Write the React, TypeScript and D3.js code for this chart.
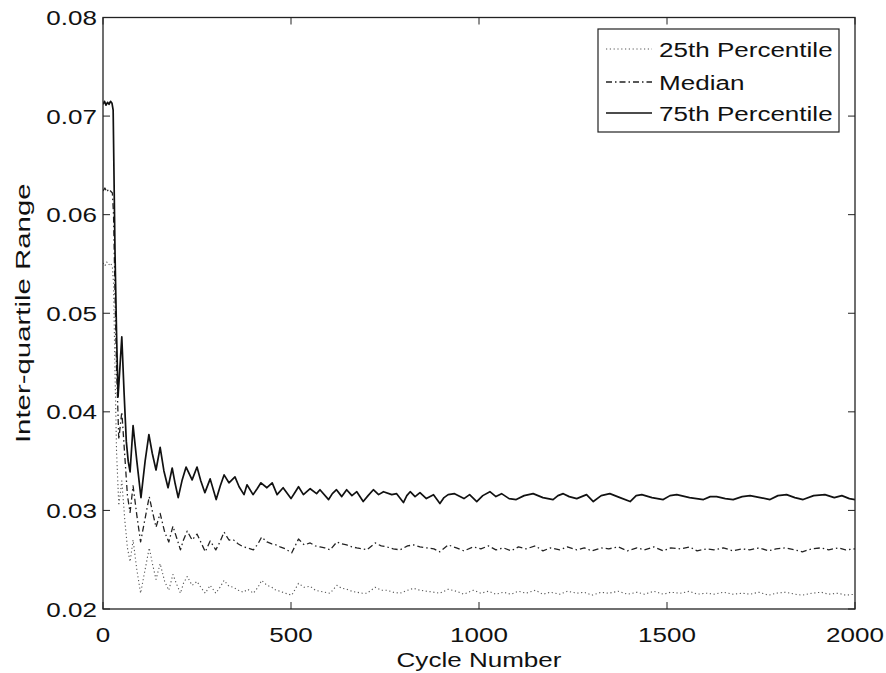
import React from "react";
import * as d3 from "d3";

// ---- data ----
const xTicks = [0, 500, 1000, 1500, 2000];
const yTicks = [0.02, 0.03, 0.04, 0.05, 0.06, 0.07, 0.08];
const yTickLabels = ["0.02", "0.03", "0.04", "0.05", "0.06", "0.07", "0.08"];
const legendLabels = ["25th Percentile", "Median", "75th Percentile"];

const p75Cycles = [0, 4, 8, 12, 16, 20, 24, 27, 32, 36, 40, 45, 50, 56, 62, 67, 72, 80, 90, 101, 112, 122, 131, 141, 152, 162, 173, 184, 192, 200, 210, 221, 237, 250, 260, 271, 285, 301, 312, 322, 335, 351, 362, 375, 383, 399, 410, 420, 436, 450, 463, 479, 500, 510, 520, 533, 551, 568, 577, 600, 610, 621, 635, 648, 662, 675, 692, 705, 719, 733, 746, 768, 781, 799, 808, 817, 830, 843, 860, 879, 896, 907, 918, 935, 960, 975, 994, 1010, 1029, 1045, 1060, 1080, 1099, 1120, 1144, 1170, 1197, 1210, 1224, 1240, 1260, 1286, 1304, 1325, 1348, 1375, 1402, 1418, 1433, 1460, 1490, 1508, 1526, 1560, 1597, 1615, 1632, 1655, 1676, 1700, 1721, 1748, 1774, 1795, 1818, 1840, 1862, 1890, 1920, 1945, 1965, 1985, 2000];
const p75Values = [0.0712, 0.0715, 0.0711, 0.0714, 0.0712, 0.0715, 0.0713, 0.0706, 0.056, 0.048, 0.0415, 0.0445, 0.0476, 0.042, 0.037, 0.035, 0.0339, 0.0386, 0.035, 0.0313, 0.035, 0.0377, 0.0358, 0.0341, 0.0364, 0.034, 0.0323, 0.0343, 0.0327, 0.0313, 0.033, 0.0344, 0.0331, 0.0344, 0.033, 0.0318, 0.0332, 0.0311, 0.0325, 0.0336, 0.0328, 0.0334, 0.0324, 0.0316, 0.0326, 0.0316, 0.0322, 0.0328, 0.0323, 0.0328, 0.0316, 0.0323, 0.0312, 0.0318, 0.0324, 0.0316, 0.0322, 0.0317, 0.0321, 0.0311, 0.0317, 0.0321, 0.0314, 0.0321, 0.0315, 0.0319, 0.0309, 0.0315, 0.0321, 0.0316, 0.0319, 0.0316, 0.0317, 0.0308, 0.0315, 0.0319, 0.0314, 0.0318, 0.0312, 0.0316, 0.0307, 0.0313, 0.0316, 0.0317, 0.0312, 0.0316, 0.0309, 0.0315, 0.0319, 0.0314, 0.0317, 0.0312, 0.0311, 0.0315, 0.0317, 0.0313, 0.0311, 0.0315, 0.0317, 0.0314, 0.0312, 0.0316, 0.0309, 0.0315, 0.0317, 0.0313, 0.0309, 0.0315, 0.0316, 0.0313, 0.0311, 0.0315, 0.0316, 0.0313, 0.0311, 0.0314, 0.0314, 0.0312, 0.0311, 0.0314, 0.0315, 0.0313, 0.0311, 0.0315, 0.0316, 0.0313, 0.0311, 0.0315, 0.0316, 0.0313, 0.0315, 0.0312, 0.0311];

const lowCycles = [0, 5, 10, 15, 20, 25, 28, 32, 36, 42, 50, 58, 65, 72, 80, 90, 100, 112, 123, 132, 141, 152, 164, 175, 186, 196, 206, 214, 224, 237, 250, 260, 272, 285, 300, 311, 322, 335, 347, 360, 373, 385, 400, 412, 422, 436, 449, 460, 471, 485, 502, 520, 535, 551, 565, 577, 590, 604, 622, 635, 648, 662, 675, 690, 702, 724, 740, 755, 772, 790, 810, 826, 843, 861, 880, 896, 918, 940, 960, 985, 1005, 1025, 1045, 1065, 1085, 1105, 1125, 1150, 1170, 1190, 1215, 1235, 1260, 1280, 1300, 1325, 1345, 1370, 1395, 1420, 1440, 1465, 1490, 1510, 1535, 1560, 1580, 1605, 1625, 1650, 1675, 1700, 1720, 1745, 1770, 1790, 1815, 1840, 1860, 1885, 1910, 1930, 1955, 1975, 2000];
const medianValues = [0.0624, 0.0627, 0.0623, 0.0626, 0.0624, 0.0622, 0.06, 0.052, 0.0445, 0.0372, 0.04, 0.0355, 0.0315, 0.0298, 0.0325, 0.0295, 0.0268, 0.0292, 0.0314, 0.0298, 0.0283, 0.0297, 0.0278, 0.0268, 0.0284, 0.0272, 0.026, 0.027, 0.0279, 0.027, 0.0276, 0.0268, 0.0258, 0.0269, 0.026, 0.0268, 0.0278, 0.027, 0.027, 0.0266, 0.0263, 0.0262, 0.026, 0.0266, 0.0273, 0.0268, 0.0266, 0.0265, 0.0263, 0.0261, 0.0257, 0.0271, 0.0265, 0.0267, 0.0264, 0.0263, 0.0262, 0.026, 0.0268, 0.0266, 0.0265, 0.0263, 0.0262, 0.0261, 0.026, 0.0267, 0.0264, 0.0263, 0.0261, 0.026, 0.0264, 0.0265, 0.0263, 0.0262, 0.0261, 0.0258, 0.0265, 0.0262, 0.0259, 0.0263, 0.0261, 0.0264, 0.026, 0.0262, 0.0259, 0.0263, 0.0261, 0.0264, 0.0259, 0.0262, 0.026, 0.0263, 0.026, 0.0262, 0.0259, 0.0262, 0.0261, 0.0263, 0.0259, 0.0262, 0.026, 0.0263, 0.0259, 0.0262, 0.0261, 0.0263, 0.0259, 0.0261, 0.026, 0.0262, 0.0259, 0.0261, 0.026, 0.0262, 0.0259, 0.0261, 0.0262, 0.026, 0.0258, 0.0261, 0.0262, 0.026, 0.0262, 0.026, 0.0261];
const p25Values = [0.0551, 0.0548, 0.0552, 0.0549, 0.0551, 0.0547, 0.053, 0.044, 0.036, 0.0305, 0.033, 0.029, 0.0262, 0.0248, 0.027, 0.024, 0.0216, 0.024, 0.0262, 0.0245, 0.023, 0.0246, 0.0228, 0.0219, 0.0235, 0.0225, 0.0216, 0.0226, 0.0233, 0.0224, 0.0228, 0.0222, 0.0216, 0.0224, 0.0216, 0.0222, 0.0229, 0.0223, 0.0222, 0.0219, 0.0217, 0.022, 0.0216, 0.0222, 0.0229, 0.0224, 0.0222, 0.0219, 0.0218, 0.0216, 0.0214, 0.0226, 0.0222, 0.0223, 0.0219, 0.0218, 0.0217, 0.0216, 0.0224, 0.0221, 0.022, 0.0218, 0.0217, 0.0216, 0.0216, 0.0222, 0.0219, 0.0219, 0.0217, 0.0216, 0.0219, 0.0221, 0.0219, 0.0218, 0.0217, 0.0216, 0.022, 0.0218, 0.0215, 0.0219, 0.0216, 0.0218, 0.0215, 0.0217, 0.0215, 0.0218, 0.0216, 0.0219, 0.0215, 0.0217, 0.0215, 0.0218, 0.0216, 0.0217, 0.0214, 0.0217, 0.0216, 0.0218, 0.0215, 0.0217, 0.0215, 0.0218, 0.0215, 0.0217, 0.0216, 0.0218, 0.0215, 0.0216, 0.0215, 0.0217, 0.0215, 0.0216, 0.0215, 0.0217, 0.0214, 0.0216, 0.0217, 0.0215, 0.0214, 0.0216, 0.0217, 0.0215, 0.0216, 0.0214, 0.0215];

// ---- layout ----
const W = 886;
const H = 673;
const L = 103, R = 855, T = 17.5, B = 609;
const FONT = "'Liberation Sans', Arial, Helvetica, sans-serif";
const FS = 21;
const SX = 1.24; // horizontal stretch of the reference's lettering
const SY_LABEL = 1.4; // stretch along the rotated y-axis title

function SText(props: { x: number; y: number; anchor?: string; size?: number; rotate?: boolean; children: React.ReactNode }) {
  const { x, y, anchor = "start", size = FS, rotate = false, children } = props;
  const tf = rotate ? `translate(${x},${y}) rotate(-90) scale(${SY_LABEL},1)` : `translate(${x},${y}) scale(${SX},1)`;
  return (
    <text transform={tf} x={0} y={0} fontSize={size} textAnchor={anchor} fill="#111">
      {children}
    </text>
  );
}

export default function App() {
  const x = d3.scaleLinear().domain([0, 2000]).range([L, R]);
  const y = d3.scaleLinear().domain([0.02, 0.08]).range([B, T]);
  const line = d3
    .line<[number, number]>()
    .x((d) => x(d[0]))
    .y((d) => y(d[1]));

  const series = [
    { pts: lowCycles.map((c, i) => [c, p25Values[i]] as [number, number]), stroke: "#555", width: 1.1, dash: "1.2,2.6" },
    { pts: lowCycles.map((c, i) => [c, medianValues[i]] as [number, number]), stroke: "#222", width: 1.3, dash: "6,3,1.5,3" },
    { pts: p75Cycles.map((c, i) => [c, p75Values[i]] as [number, number]), stroke: "#111", width: 1.7, dash: "none" },
  ];

  const tickLen = 7;
  const legX0 = 598, legX1 = 839, legY0 = 29, legY1 = 132;
  const legRows = [49, 82, 113];

  return (
    <svg width={W} height={H} style={{ position: "absolute", left: 0, top: 0, background: "#fff" }} fontFamily={FONT}>
      <rect x={0} y={0} width={W} height={H} fill="#fff" />
      <defs>
        <clipPath id="plotclip">
          <rect x={L} y={T} width={R - L} height={B - T} />
        </clipPath>
      </defs>
      <g clipPath="url(#plotclip)">
        {series.map((s, i) => (
          <path key={i} d={line(s.pts) || ""} fill="none" stroke={s.stroke} strokeWidth={s.width} strokeDasharray={s.dash} strokeLinejoin="round" />
        ))}
      </g>
      <rect x={L} y={T} width={R - L} height={B - T} fill="none" stroke="#222" strokeWidth={1.3} />
      {xTicks.map((t) => (
        <g key={"x" + t}>
          <line x1={x(t)} x2={x(t)} y1={B} y2={B - tickLen} stroke="#222" />
          <line x1={x(t)} x2={x(t)} y1={T} y2={T + tickLen} stroke="#222" />
          <SText x={x(t)} y={642} anchor="middle">{t}</SText>
        </g>
      ))}
      {yTicks.map((t, i) => (
        <g key={"y" + t}>
          <line x1={L} x2={L + tickLen} y1={y(t)} y2={y(t)} stroke="#222" />
          <line x1={R} x2={R - tickLen} y1={y(t)} y2={y(t)} stroke="#222" />
          <SText x={97} y={y(t) + 7.5} anchor="end">{yTickLabels[i]}</SText>
        </g>
      ))}
      <SText x={(L + R) / 2} y={667} anchor="middle">Cycle Number</SText>
      <SText x={30} y={(T + B) / 2} anchor="middle" rotate>Inter-quartile Range</SText>
      <rect x={legX0} y={legY0} width={legX1 - legX0} height={legY1 - legY0} fill="#fff" stroke="#222" strokeWidth={1.2} />
      {legendLabels.map((lab, i) => (
        <g key={lab}>
          <line x1={606} x2={652} y1={legRows[i]} y2={legRows[i]} stroke={series[i].stroke} strokeWidth={series[i].width} strokeDasharray={series[i].dash} />
          <SText x={659} y={legRows[i] + 7.5}>{lab}</SText>
        </g>
      ))}
    </svg>
  );
}
